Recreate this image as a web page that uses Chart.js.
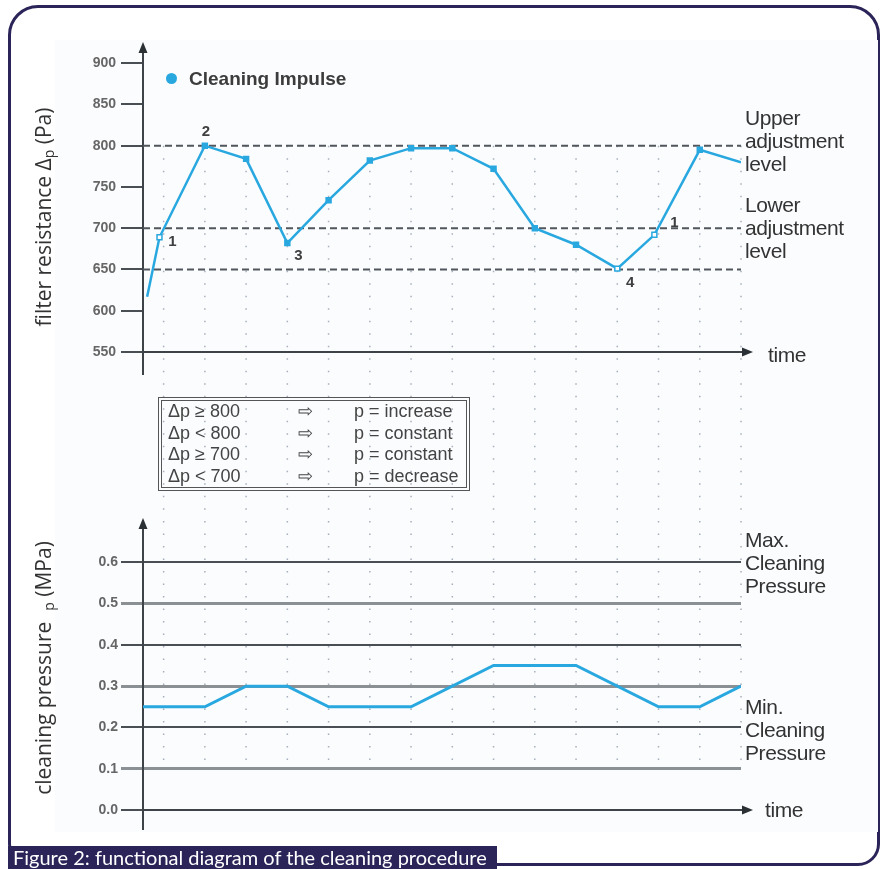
<!DOCTYPE html>
<html>
<head>
<meta charset="utf-8">
<script src="https://cdn.jsdelivr.net/npm/chart.js@4.4.0/dist/chart.umd.min.js"></script>
<style>
  body { margin: 0; width: 889px; height: 869px; overflow: hidden; position: relative; background: #fff; font-family: 'Liberation Sans', Arial, sans-serif; }
  #frame { position: absolute; left: 8px; top: 5px; width: 866px; height: 855px; border: 3px solid #2b2459; border-radius: 30px 30px 22px 22px; }
  #paper { position: absolute; left: 55px; top: 40px; width: 823px; height: 792px; background: #fbfcfe; }
  canvas { position: absolute; left: 0; }
  #topChart { top: 0; }
  #bottomChart { top: 500px; }
  .lbl { position: absolute; color: #333; font-size: 21px; line-height: 23px; letter-spacing: -0.4px; white-space: nowrap; }
  #legend { position: absolute; left: 166px; top: 68px; font-size: 19px; font-weight: bold; color: #3c3c3c; line-height: 22px; }
  #legend span { display: inline-block; width: 11px; height: 11px; border-radius: 50%; background: #29a8e0; margin-right: 12px; vertical-align: 1px; }
  #rules { position: absolute; left: 158px; top: 397px; width: 304px; height: 86px; border: 4px double #555; color: #444; font-size: 18px; line-height: 21.5px; }
  #rules div { position: relative; height: 21.5px; }
  #rules b { font-weight: normal; position: absolute; }
  #caption { position: absolute; left: 8px; top: 846px; width: 484px; height: 23px; padding-left: 5px; background: #2b2459; color: #fff; font-family: Lato, 'Open Sans', sans-serif; font-size: 20px; line-height: 23px; white-space: nowrap; }
</style>
</head>
<body>
<div id="frame"></div>
<div id="paper"></div>
<canvas id="topChart" width="889" height="520"></canvas>
<canvas id="bottomChart" width="889" height="369"></canvas>

<div id="legend"><span></span>Cleaning Impulse</div>
<div class="lbl" style="left:745px;top:106px">Upper<br>adjustment<br>level</div>
<div class="lbl" style="left:745px;top:193px">Lower<br>adjustment<br>level</div>
<div class="lbl" style="left:768px;top:343px">time</div>
<div class="lbl" style="left:745px;top:528px">Max.<br>Cleaning<br>Pressure</div>
<div class="lbl" style="left:745px;top:695px">Min.<br>Cleaning<br>Pressure</div>
<div class="lbl" style="left:765px;top:798px">time</div>

<div id="rules">
  <div><b style="left:6px">Δp ≥ 800</b><b style="left:136px">⇨</b><b style="left:192px">p = increase</b></div>
  <div><b style="left:6px">Δp &lt; 800</b><b style="left:136px">⇨</b><b style="left:192px">p = constant</b></div>
  <div><b style="left:6px">Δp ≥ 700</b><b style="left:136px">⇨</b><b style="left:192px">p = constant</b></div>
  <div><b style="left:6px">Δp &lt; 700</b><b style="left:136px">⇨</b><b style="left:192px">p = decrease</b></div>
</div>

<div id="caption">Figure 2: functional diagram of the cleaning procedure</div>

<script>
// Filter resistance (top diagram)
const timeTop = [0.6, 0.9, 2, 3, 4, 5, 6, 7, 8, 9, 10, 11, 12, 12.9, 14, 15];
const resistance = [617, 689, 800, 784, 682, 734, 782, 797, 797, 772, 700, 680, 651, 692, 795, 780];
const impulseMarks = ['none', 'open', 'filled', 'filled', 'filled', 'filled', 'filled', 'filled', 'filled', 'filled', 'filled', 'filled', 'open', 'open', 'filled', 'none'];
const pointNumbers = ['', '1', '2', '', '3', '', '', '', '', '', '', '', '4', '1', '', ''];
const resistanceTicks = [550, 600, 650, 700, 750, 800, 850, 900];
const levelLines = [800, 700, 650];

// Cleaning pressure (bottom diagram)
const timeBottom = [0.5, 2, 3, 4, 5, 7, 9, 11, 13, 14, 15];
const pressure = [0.25, 0.25, 0.3, 0.3, 0.25, 0.25, 0.35, 0.35, 0.25, 0.25, 0.3];
const pressureTicks = [0, 0.1, 0.2, 0.3, 0.4, 0.5, 0.6];
const pressureTickLabels = ['0.0', '0.1', '0.2', '0.3', '0.4', '0.5', '0.6'];

// dotted time grid
const gridTimes = [1, 2, 3, 4, 5, 6, 7, 8, 9, 10, 11, 12, 13, 14, 15];

const BLUE = '#29a8e0';
Chart.defaults.font.family = "'Liberation Sans', Arial, sans-serif";

// draws the dotted time grid and the two arrow axes
const arrowAxes = {
    id: 'arrowAxes',
    beforeDatasetsDraw(chart, args, opts) {
        const { ctx, chartArea, scales: { x, y } } = chart;
        ctx.save();
        ctx.strokeStyle = 'rgba(110,125,145,0.6)';
        ctx.lineWidth = 1.5;
        ctx.setLineDash([1.5, 11]);
        const y0 = opts.dotFrom !== undefined ? y.getPixelForValue(opts.dotFrom) : chartArea.top;
        const y1 = opts.dotTo !== undefined ? y.getPixelForValue(opts.dotTo) : chart.height;
        gridTimes.forEach(t => {
            const px = x.getPixelForValue(t);
            ctx.beginPath();
            ctx.moveTo(px, y0);
            ctx.lineTo(px, y1);
            ctx.stroke();
        });
        ctx.setLineDash([]);

        const ax = x.getPixelForValue(x.min);
        const ay = y.getPixelForValue(opts.base);
        const top = chartArea.top;
        ctx.strokeStyle = '#3d4349';
        ctx.fillStyle = '#2b3035';
        ctx.lineWidth = 2;
        ctx.beginPath();
        ctx.moveTo(ax, top + 6);
        ctx.lineTo(ax, chartArea.bottom + opts.tail);
        ctx.moveTo(ax, ay);
        ctx.lineTo(chartArea.right + 4, ay);
        ctx.stroke();
        // arrow heads
        ctx.beginPath();
        ctx.moveTo(ax, top - 3);
        ctx.lineTo(ax - 4.5, top + 8);
        ctx.lineTo(ax + 4.5, top + 8);
        ctx.closePath();
        ctx.fill();
        ctx.beginPath();
        ctx.moveTo(chartArea.right + 12, ay);
        ctx.lineTo(chartArea.right + 1, ay - 4.5);
        ctx.lineTo(chartArea.right + 1, ay + 4.5);
        ctx.closePath();
        ctx.fill();
        ctx.restore();
    }
};

// rotated axis title with a subscript p
const sideTitle = {
    id: 'sideTitle',
    afterDraw(chart, args, opts) {
        const { ctx } = chart;
        const big = "21px 'Open Sans', Lato, sans-serif";
        const small = "14px 'Open Sans', Lato, sans-serif";
        ctx.save();
        ctx.translate(opts.x, opts.y);
        ctx.rotate(-Math.PI / 2);
        ctx.fillStyle = '#333';
        ctx.textAlign = 'left';
        ctx.textBaseline = 'middle';
        let total = 0;
        opts.parts.forEach(p => {
            ctx.font = p.sub ? small : big;
            total += ctx.measureText(p.text).width;
        });
        let cx = -total / 2;
        opts.parts.forEach(p => {
            ctx.font = p.sub ? small : big;
            ctx.fillText(p.text, cx, p.sub ? 5 : 0);
            cx += ctx.measureText(p.text).width;
        });
        ctx.restore();
    }
};

// numbers next to the cleaning impulse points
const labelOffsets = { '1': [13, 5], '2': [1, -14], '3': [11, 13], '4': [13, 14] };
const pointLabels = {
    id: 'pointLabels',
    afterDatasetsDraw(chart) {
        const { ctx } = chart;
        const meta = chart.getDatasetMeta(0);
        ctx.save();
        ctx.fillStyle = '#3f3f3f';
        ctx.font = "bold 15px 'Liberation Sans', Arial, sans-serif";
        ctx.textAlign = 'center';
        ctx.textBaseline = 'middle';
        meta.data.forEach((pt, i) => {
            const txt = pointNumbers[i];
            if (!txt) return;
            let off = labelOffsets[txt];
            if (i === 13) off = [20, -12];
            ctx.fillText(txt, pt.x + off[0], pt.y + off[1]);
        });
        ctx.restore();
    }
};

const topDatasets = [{
    data: timeTop.map((t, i) => ({ x: t, y: resistance[i] })),
    borderColor: BLUE,
    borderWidth: 2.5,
    pointStyle: 'rect',
    pointRadius: impulseMarks.map(m => m === 'none' ? 0 : 3.5),
    pointBackgroundColor: impulseMarks.map(m => m === 'open' ? '#ffffff' : BLUE),
    pointBorderColor: BLUE,
    pointBorderWidth: 1.5
}];
levelLines.forEach(v => {
    topDatasets.push({
        data: [{ x: 0.5, y: v }, { x: 15, y: v }],
        borderColor: '#50565c',
        borderWidth: 2,
        borderDash: [7, 4],
        pointRadius: 0
    });
});

new Chart(document.getElementById('topChart'), {
    type: 'line',
    data: { datasets: topDatasets },
    plugins: [arrowAxes, pointLabels, sideTitle],
    options: {
        responsive: false,
        animation: false,
        layout: { padding: { left: 0, top: 45, right: 148, bottom: 168 } },
        plugins: {
            legend: { display: false },
            tooltip: { enabled: false },
            arrowAxes: { base: 550, tail: 23, dotFrom: 800 },
            sideTitle: { x: 45, y: 217, parts: [{ text: 'filter resistance Δ' }, { text: 'p', sub: true }, { text: ' (Pa)' }] }
        },
        scales: {
            x: { type: 'linear', min: 0.5, max: 15, display: false },
            y: {
                min: 550,
                max: 922,
                afterFit: scale => { scale.width = 143; },
                afterBuildTicks: axis => { axis.ticks = resistanceTicks.map(v => ({ value: v })); },
                ticks: { color: '#666', font: { size: 14, weight: 'bold' }, padding: 5, callback: v => String(v) },
                grid: { drawOnChartArea: false, tickLength: 22, color: '#4a4f55', lineWidth: 2 },
                border: { display: false }
            }
        }
    }
});

new Chart(document.getElementById('bottomChart'), {
    type: 'line',
    data: {
        datasets: [{
            data: timeBottom.map((t, i) => ({ x: t, y: pressure[i] })),
            borderColor: BLUE,
            borderWidth: 3,
            pointRadius: 0
        }]
    },
    plugins: [arrowAxes, sideTitle],
    options: {
        responsive: false,
        animation: false,
        layout: { padding: { left: 0, top: 21, right: 148, bottom: 59 } },
        plugins: {
            legend: { display: false },
            tooltip: { enabled: false },
            arrowAxes: { base: 0, tail: 20, dotTo: 0.1 },
            sideTitle: { x: 45, y: 168, parts: [{ text: 'cleaning pressure  ' }, { text: 'p', sub: true }, { text: ' (MPa)' }] }
        },
        scales: {
            x: { type: 'linear', min: 0.5, max: 15, display: false },
            y: {
                min: 0,
                max: 0.7,
                afterFit: scale => { scale.width = 143; },
                afterBuildTicks: axis => { axis.ticks = pressureTicks.map(v => ({ value: v })); },
                ticks: { color: '#666', font: { size: 14, weight: 'bold' }, padding: 3, callback: (v, i) => pressureTickLabels[i] },
                grid: {
                    drawOnChartArea: true,
                    tickLength: 22,
                    color: ctx => (ctx.index % 2 === 1 ? '#8b9095' : '#4a4f55'),
                    lineWidth: ctx => (ctx.index % 2 === 1 ? 3 : 2)
                },
                border: { display: false }
            }
        }
    }
});
</script>
</body>
</html>
